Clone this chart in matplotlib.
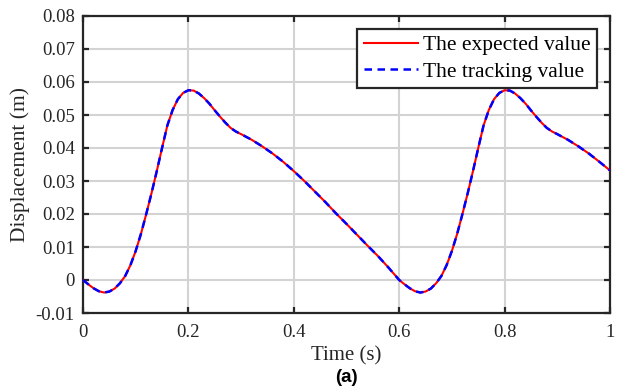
import matplotlib
matplotlib.use("Agg")
import matplotlib.pyplot as plt

# ---- data ----
time_s = [0.00, 0.01, 0.02, 0.03, 0.04, 0.05, 0.06, 0.07, 0.08, 0.09,
          0.10, 0.11, 0.12, 0.13, 0.14, 0.15, 0.16, 0.17, 0.18, 0.19,
          0.20, 0.21, 0.22, 0.23, 0.24, 0.25, 0.26, 0.27, 0.28, 0.29,
          0.30, 0.32, 0.34, 0.36, 0.38, 0.40, 0.42, 0.44, 0.46, 0.48,
          0.50, 0.52, 0.54, 0.56, 0.58, 0.60, 0.61, 0.62, 0.63, 0.64,
          0.65, 0.66, 0.67, 0.68, 0.69, 0.70, 0.71, 0.72, 0.73, 0.74,
          0.75, 0.76, 0.77, 0.78, 0.79, 0.80, 0.81, 0.82, 0.83, 0.84,
          0.85, 0.86, 0.87, 0.88, 0.89, 0.90, 0.92, 0.94, 0.96, 0.98,
          1.00]

expected_value = [0.0000, -0.0013, -0.0025, -0.0034, -0.0038, -0.0035, -0.0026, -0.0010, 0.0012, 0.0045,
                  0.0088, 0.0140, 0.0200, 0.0263, 0.0330, 0.0400, 0.0468, 0.0515, 0.0548, 0.0567,
                  0.0575, 0.0574, 0.0565, 0.0551, 0.0534, 0.0514, 0.0495, 0.0477, 0.0461, 0.0450,
                  0.0442, 0.0425, 0.0405, 0.0383, 0.0358, 0.0330, 0.0300, 0.0268, 0.0236, 0.0202,
                  0.0170, 0.0137, 0.0104, 0.0072, 0.0037, 0.0000, -0.0013, -0.0025, -0.0034, -0.0038,
                  -0.0035, -0.0026, -0.0010, 0.0012, 0.0045, 0.0088, 0.0140, 0.0200, 0.0263, 0.0330,
                  0.0400, 0.0468, 0.0515, 0.0548, 0.0567, 0.0575, 0.0574, 0.0565, 0.0551, 0.0534,
                  0.0514, 0.0495, 0.0477, 0.0461, 0.0450, 0.0442, 0.0425, 0.0405, 0.0383, 0.0358,
                  0.0332]

tracking_value = [0.0000, -0.0013, -0.0025, -0.0034, -0.0038, -0.0035, -0.0026, -0.0010, 0.0012, 0.0045,
                  0.0088, 0.0140, 0.0200, 0.0263, 0.0330, 0.0400, 0.0468, 0.0515, 0.0548, 0.0567,
                  0.0575, 0.0574, 0.0565, 0.0551, 0.0534, 0.0514, 0.0495, 0.0477, 0.0461, 0.0450,
                  0.0442, 0.0425, 0.0405, 0.0383, 0.0358, 0.0330, 0.0300, 0.0268, 0.0236, 0.0202,
                  0.0170, 0.0137, 0.0104, 0.0072, 0.0037, 0.0000, -0.0013, -0.0025, -0.0034, -0.0038,
                  -0.0035, -0.0026, -0.0010, 0.0012, 0.0045, 0.0088, 0.0140, 0.0200, 0.0263, 0.0330,
                  0.0400, 0.0468, 0.0515, 0.0548, 0.0567, 0.0575, 0.0574, 0.0565, 0.0551, 0.0534,
                  0.0514, 0.0495, 0.0477, 0.0461, 0.0450, 0.0442, 0.0425, 0.0405, 0.0383, 0.0358,
                  0.0332]

x_ticks = [0, 0.2, 0.4, 0.6, 0.8, 1.0]
x_tick_labels = ["0", "0.2", "0.4", "0.6", "0.8", "1"]
y_ticks = [-0.01, 0, 0.01, 0.02, 0.03, 0.04, 0.05, 0.06, 0.07, 0.08]
y_tick_labels = ["-0.01", "0", "0.01", "0.02", "0.03", "0.04", "0.05", "0.06", "0.07", "0.08"]

serif = ["Liberation Serif", "DejaVu Serif"]
plt.rcParams["font.family"] = serif

fig = plt.figure(figsize=(6.22, 3.92), dpi=100)
ax = fig.add_axes([83 / 622, 1 - 313 / 392, (610 - 83) / 622, (313 - 16) / 392])

ax.plot(time_s, expected_value, color="#ff0000", lw=1.5, label="The expected value", zorder=3)
ax.plot(time_s, tracking_value, color="#0000ff", lw=1.8, ls=(0, (3.0, 2.2)),
        label="The tracking value", zorder=4)

ax.set_xlim(0, 1)
ax.set_ylim(-0.01, 0.08)
ax.set_xticks(x_ticks)
ax.set_xticklabels(x_tick_labels)
ax.set_yticks(y_ticks)
ax.set_yticklabels(y_tick_labels)

ax.grid(True, color="#d3d3d3", lw=1.5)
ax.set_axisbelow(True)

for s in ax.spines.values():
    s.set_color("#262626")
    s.set_linewidth(1.6)

ax.tick_params(direction="in", length=4, width=1.6, color="#262626",
               top=True, right=True, labelsize=13.5, labelcolor="#262626")
ax.tick_params(axis="x", pad=8)
ax.tick_params(axis="y", pad=6)

ax.set_xlabel("Time (s)", fontsize=15, color="#262626", labelpad=4)
ax.set_ylabel("Displacement (m)", fontsize=15.5, color="#262626", labelpad=4)

leg = ax.legend(loc="upper right", fontsize=15.5, frameon=True, fancybox=False,
                handlelength=2.5, handletextpad=0.25, borderpad=0.3,
                labelspacing=0.3, borderaxespad=0.6)
leg.get_frame().set_edgecolor("#262626")
leg.get_frame().set_linewidth(1.6)
leg.get_frame().set_alpha(1)

fig.text(346 / 622, 1 - 378 / 392, "(a)", ha="center", va="center",
         fontsize=13.5, fontweight="bold", family=["Liberation Sans", "DejaVu Sans"])

fig.savefig("out.png", dpi=100)
